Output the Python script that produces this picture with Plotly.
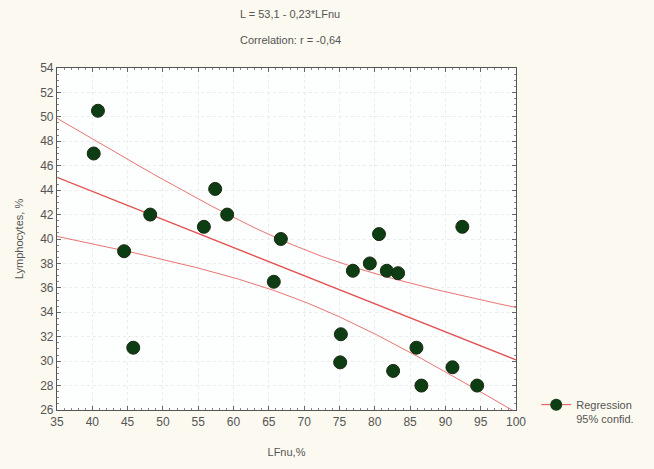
import numpy as np
import plotly.graph_objects as go

# LFnu (%) and lymphocytes (%)
lfnu = [40.8, 40.2, 48.2, 44.5, 45.8, 57.4, 55.8, 59.1, 66.7, 65.7, 76.9, 79.3,
        80.6, 81.7, 83.3, 75.2, 75.1, 82.6, 85.9, 86.6, 91.0, 92.4, 94.5]
lymph = [50.5, 47.0, 42.0, 39.0, 31.1, 44.1, 41.0, 42.0, 40.0, 36.5, 37.4, 38.0,
         40.4, 37.4, 37.2, 32.2, 29.9, 29.2, 31.1, 28.0, 29.5, 41.0, 28.0]

intercept = 53.1
slope = -0.23

x = np.array(lfnu)
y = np.array(lymph)
n = len(x)
xs = np.linspace(35, 100, 200)
fit = intercept + slope * xs
resid = y - (intercept + slope * x)
s = np.sqrt(np.sum(resid ** 2) / (n - 2))
t = 2.08
se = s * np.sqrt(1 / n + (xs - x.mean()) ** 2 / np.sum((x - x.mean()) ** 2))
upper = fit + t * se
lower = fit - t * se

red = "#e2504f"
green = "#0d3d12"

fig = go.Figure()
fig.add_trace(go.Scatter(x=xs, y=upper, mode="lines", line=dict(color=red, width=0.8),
                         showlegend=False, hoverinfo="skip"))
fig.add_trace(go.Scatter(x=xs, y=lower, mode="lines", line=dict(color=red, width=0.8),
                         showlegend=False, hoverinfo="skip"))
fig.add_trace(go.Scatter(x=xs, y=fit, mode="lines", line=dict(color=red, width=1.4),
                         showlegend=False, hoverinfo="skip"))
fig.add_trace(go.Scatter(x=lfnu, y=lymph, mode="markers",
                         marker=dict(size=13, color=green, line=dict(color="#1a2a12", width=1)),
                         showlegend=False))
# legend entry
fig.add_trace(go.Scatter(x=[None], y=[None], mode="lines+markers",
                         name="Regression<br>95% confid.",
                         line=dict(color=red, width=1),
                         marker=dict(size=12, color=green)))

axis_common = dict(
    showline=True, linecolor="#555", linewidth=1.2, mirror="ticks",
    ticks="inside", ticklen=4, tickcolor="#666",
    minor=dict(ticks="inside", ticklen=2, tickcolor="#888", showgrid=False),
    showgrid=True, gridcolor="#ececec", griddash="dot", zeroline=False,
    tickfont=dict(family="Liberation Sans, Arial", size=12, color="#555"),
    automargin=False,
)

ph = 469 - 68 - 59
pw = 654 - 57 - 138

fig.update_layout(
    width=654, height=469,
    paper_bgcolor="#fcf9f0", plot_bgcolor="#fdfefe",
    margin=dict(l=57, r=138, t=68, b=59),
    font=dict(family="Liberation Sans, Arial", size=11, color="#555"),
    legend=dict(x=1.044, y=(410 - 412) / ph, xanchor="left", yanchor="middle",
                valign="top", tracegroupgap=0,
                bgcolor="rgba(0,0,0,0)", font=dict(size=11, color="#555")),
    annotations=[
        dict(text="L = 53,1 - 0,23*LFnu", x=(290 - 57) / pw, xref="paper",
             y=1 + (68 - 14) / ph, yref="paper", yanchor="middle",
             showarrow=False, font=dict(size=11)),
        dict(text="Correlation: r = -0,64", x=(290 - 57) / pw, xref="paper",
             y=1 + (68 - 40) / ph, yref="paper", yanchor="middle",
             showarrow=False, font=dict(size=11)),
    ],
)

fig.update_xaxes(axis_common, range=[35, 100], dtick=5,
                 title=dict(text="LFnu,%", standoff=20, font=dict(size=11, color="#555")))
fig.update_yaxes(axis_common, range=[26, 54], dtick=2,
                 title=dict(text="Lymphocytes, %", standoff=14, font=dict(size=11, color="#555")))

fig.write_html("out.html", config={"displayModeBar": False},
               post_script="document.body.style.margin='0';"
                           "document.body.style.background='#fcf9f0';")
